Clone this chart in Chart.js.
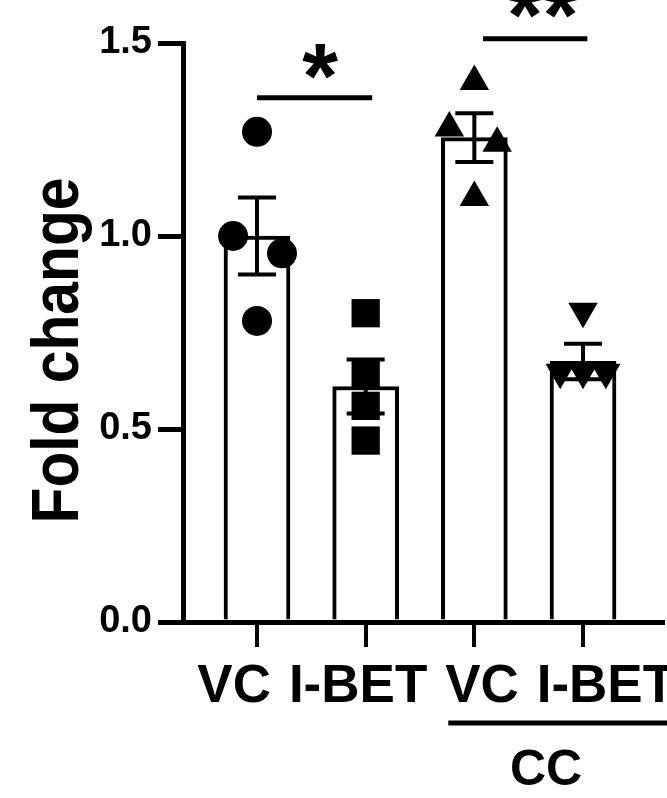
<!DOCTYPE html>
<html>
<head>
<meta charset="utf-8">
<script src="https://cdn.jsdelivr.net/npm/chart.js@4"></script>
<style>
  html, body { margin: 0; padding: 0; background: #fff; }
  canvas { display: block; }
</style>
</head>
<body>
<canvas id="c" width="667" height="798"></canvas>
<script>
// ---- data ----
const categories = ["VC", "I-BET", "VC", "I-BET"];
const groupLabel = "CC";
const yTitle = "Fold change";
const yTicks = [0, 0.5, 1.0, 1.5];

const barMeans = [1.00, 0.61, 1.255, 0.675];
const barSem   = [0.10, 0.07, 0.063, 0.046];

const ptsVC      = [1.27, 1.00, 0.955, 0.78];
const ptsIBET    = [0.80, 0.64, 0.56, 0.47];
const ptsVCcc    = [1.40, 1.28, 1.24, 1.10];
const ptsIBETcc  = [0.805, 0.647, 0.647, 0.647];

const jitVC     = [0, -0.22, 0.23, 0];
const jitIBET   = [0, 0, 0, 0];
const jitVCcc   = [0, -0.23, 0.21, 0];
const jitIBETcc = [0, -0.21, 0, 0.21];

const sigLabels = ["*", "**"];

// ---- build datasets ----
const FONT = '"Liberation Sans", Arial, sans-serif';
function pts(vals, jit, idx) { return vals.map((v, i) => ({ x: idx + jit[i], y: v })); }

const datasets = [
  {
    type: 'bar',
    data: barMeans.map((m, i) => ({ x: i, y: m })),
    backgroundColor: '#ffffff',
    borderColor: '#000000',
    borderWidth: 4,
    borderSkipped: 'bottom',
    barThickness: 66,
    order: 10
  },
  { type: 'scatter', data: pts(ptsVC, jitVC, 0), pointStyle: 'circle', pointRadius: 15 },
  { type: 'scatter', data: pts(ptsIBET, jitIBET, 1), pointStyle: 'rect', pointRadius: 20 },
  { type: 'scatter', data: pts(ptsVCcc, jitVCcc, 2), pointStyle: 'triangle', pointRadius: 17 },
  { type: 'scatter', data: pts(ptsIBETcc, jitIBETcc, 3), pointStyle: 'triangle', pointRotation: 180, pointRadius: 17 }
];
datasets.slice(1).forEach(d => {
  d.backgroundColor = '#000';
  d.borderColor = '#000';
  d.borderWidth = 0;
  d.pointBorderWidth = 0;
  d.order = 1;
  d.clip = false;
});

const annot = {
  id: 'annot',
  afterDatasetDraw(chart, args) {
    if (args.index !== 0) return;
    const ctx = chart.ctx, xs = chart.scales.x, ys = chart.scales.y;
    ctx.save();
    ctx.strokeStyle = '#000';
    ctx.lineWidth = 4;
    ctx.lineCap = 'butt';
    barMeans.forEach((m, i) => {
      const x = xs.getPixelForValue(i);
      const yt = ys.getPixelForValue(m + barSem[i]);
      const yb = ys.getPixelForValue(m - barSem[i]);
      ctx.beginPath();
      ctx.moveTo(x, yt); ctx.lineTo(x, yb);
      ctx.moveTo(x - 19, yt); ctx.lineTo(x + 19, yt);
      ctx.moveTo(x - 19, yb); ctx.lineTo(x + 19, yb);
      ctx.stroke();
    });
    ctx.restore();
  },
  afterDraw(chart) {
    const ctx = chart.ctx, xs = chart.scales.x, ys = chart.scales.y;
    ctx.save();
    ctx.fillStyle = '#000';
    ctx.strokeStyle = '#000';

    // significance brackets
    ctx.lineWidth = 5;
    ctx.beginPath();
    ctx.moveTo(xs.getPixelForValue(0), ys.getPixelForValue(1.358));
    ctx.lineTo(xs.getPixelForValue(1.06), ys.getPixelForValue(1.358));
    ctx.moveTo(xs.getPixelForValue(2.08), ys.getPixelForValue(1.511));
    ctx.lineTo(xs.getPixelForValue(3.04), ys.getPixelForValue(1.511));
    ctx.stroke();

    function star(txt, xv, yv) {
      ctx.font = 'bold 92px ' + FONT;
      ctx.textAlign = 'center';
      ctx.textBaseline = 'alphabetic';
      const m = ctx.measureText(txt);
      const cy = ys.getPixelForValue(yv);
      const off = (m.actualBoundingBoxAscent - m.actualBoundingBoxDescent) / 2;
      ctx.fillText(txt, xs.getPixelForValue(xv), cy + off);
    }
    star(sigLabels[0], 0.58, 1.453);
    star(sigLabels[1], 2.63, 1.61);

    // x category labels
    ctx.font = 'bold 53px ' + FONT;
    ctx.textAlign = 'center';
    ctx.textBaseline = 'alphabetic';
    categories.forEach((c, i) => {
      const xv = i + (i - 1.5) * 0.14;
      ctx.fillText(c, xs.getPixelForValue(xv), chart.chartArea.bottom + 80);
    });

    // group underline + label
    ctx.lineWidth = 5;
    ctx.beginPath();
    ctx.moveTo(xs.getPixelForValue(1.76), chart.chartArea.bottom + 101);
    ctx.lineTo(chart.width + 5, chart.chartArea.bottom + 101);
    ctx.stroke();
    ctx.font = 'bold 50px ' + FONT;
    ctx.fillText(groupLabel, xs.getPixelForValue(2.66), chart.chartArea.bottom + 163);

    // y title (rotated, condensed)
    ctx.save();
    ctx.translate(78, (chart.chartArea.top + chart.chartArea.bottom) / 2 + 18);
    ctx.rotate(-Math.PI / 2);
    ctx.font = 'bold 66px ' + FONT;
    ctx.textAlign = 'center';
    ctx.textBaseline = 'alphabetic';
    const w = ctx.measureText(yTitle).width;
    ctx.scale(346 / w, 1);
    ctx.fillText(yTitle, 0, 0);
    ctx.restore();

    ctx.restore();
  }
};

new Chart(document.getElementById('c'), {
  type: 'bar',
  data: { datasets },
  options: {
    responsive: false,
    animation: false,
    devicePixelRatio: 1,
    layout: { autoPadding: false, padding: { top: 43, right: 4, bottom: 0, left: 0 } },
    plugins: { legend: { display: false }, tooltip: { enabled: false } },
    scales: {
      x: {
        type: 'linear',
        min: -0.681,
        max: 3.736,
        offset: false,
        afterBuildTicks(s) { s.ticks = categories.map((_, i) => ({ value: i })); },
        afterFit(s) { s.height = 176; s.paddingLeft = 0; s.paddingRight = 0; },
        ticks: { display: false },
        grid: { offset: false, drawOnChartArea: false, drawTicks: true, tickLength: 25, lineWidth: 4, color: '#000' },
        border: { display: true, color: '#000', width: 5 }
      },
      y: {
        min: 0,
        max: 1.5,
        afterBuildTicks(s) { s.ticks = yTicks.map(v => ({ value: v })); },
        afterFit(s) { s.width = 183; s.paddingTop = 0; s.paddingBottom = 0; },
        ticks: {
          color: '#000',
          padding: 6,
          font: { family: FONT, size: 38, weight: 'bold' },
          callback: v => Number(v).toFixed(1)
        },
        grid: { drawOnChartArea: false, drawTicks: true, tickLength: 25, lineWidth: 5, color: '#000' },
        border: { display: true, color: '#000', width: 5 }
      }
    }
  },
  plugins: [annot]
});
</script>
</body>
</html>
